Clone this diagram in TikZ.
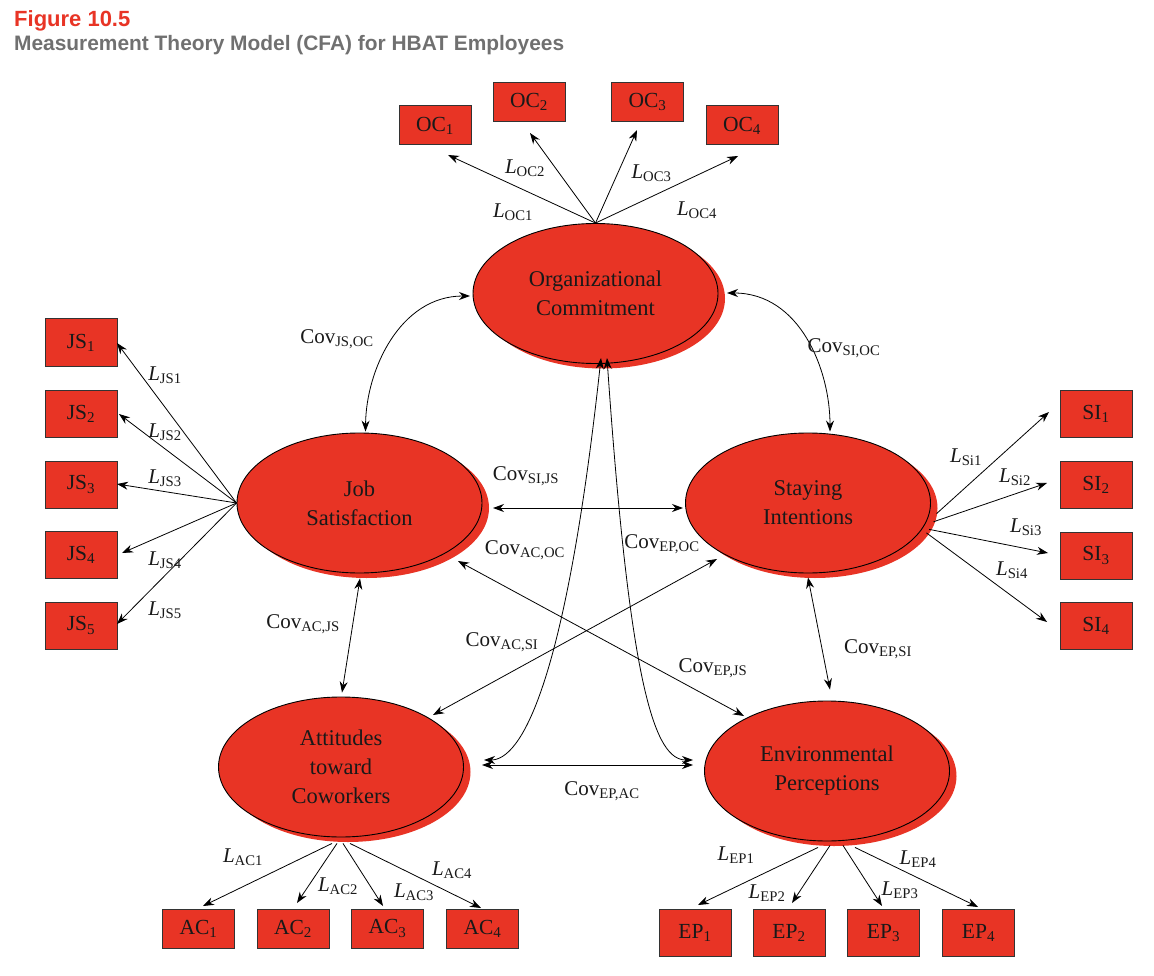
\documentclass[tikz,border=0pt]{standalone}
\usepackage{fontspec}
\setmainfont{Liberation Serif}
\newfontfamily\titlefont{Liberation Sans}
\usetikzlibrary{shapes.geometric,arrows.meta,shadows,calc}
\definecolor{fig}{RGB}{232,52,37}
\definecolor{tgray}{RGB}{112,112,112}
\newcommand{\Ld}[1]{\textit{L}\textsubscript{#1}}
\newcommand{\Cv}[1]{Cov\textsubscript{#1}}
\begin{document}
\begin{tikzpicture}[x=1pt,y=-1pt,
  lat/.style={ellipse, draw=black, line width=0.9pt, fill=fig, minimum width=245pt, minimum height=140pt,
    inner sep=0pt, align=center, text=black!90, font=\fontsize{22.5}{29}\selectfont,
    drop shadow={shadow xshift=7pt, shadow yshift=-5pt, fill=fig, opacity=1}},
  box/.style={rectangle, draw=black!80, line width=1pt, fill=fig, minimum width=72pt, minimum height=39pt,
    inner sep=0pt, text=black!90, font=\fontsize{21.5}{24}\selectfont},
  tbox/.style={box, minimum height=47pt},
  tip/.tip={Stealth[length=11pt,width=8pt]},
  arr/.style={-tip, line width=0.8pt},
  darr/.style={tip-tip, line width=0.8pt},
  lab/.style={inner sep=0pt, text=black!90, font=\fontsize{21}{24}\selectfont}
]
\useasboundingbox (0,0) rectangle (1154,976);

% title
\node[anchor=base west, inner sep=0pt, text=fig, font=\titlefont\bfseries\fontsize{22}{24}\selectfont] (title) at (14,27) {Figure 10.5};
\node[anchor=base west, inner sep=0pt, text=tgray, font=\titlefont\bfseries\fontsize{20.9}{24}\selectfont] (subtitle) at (14,51) {Measurement Theory Model (CFA) for HBAT Employees};

% latent constructs
\node[lat] (oc) at (595.5,293.5) {Organizational\\Commitment};
\node[lat] (js) at (359.5,503) {Job\\Satisfaction};
\node[lat] (si) at (808,503) {Staying\\Intentions};
\node[lat] (ac) at (341,767) {Attitudes\\toward\\Coworkers};
\node[lat] (ep) at (827,771) {Environmental\\Perceptions};

% indicators
\node[box] (oc1) at (435,125.5) {OC\textsubscript{1}};
\node[box] (oc2) at (529,102) {OC\textsubscript{2}};
\node[box] (oc3) at (647.5,102) {OC\textsubscript{3}};
\node[box] (oc4) at (742,125.5) {OC\textsubscript{4}};

\node[tbox] (js1) at (81,342.5) {JS\textsubscript{1}};
\node[tbox] (js2) at (81,413.5) {JS\textsubscript{2}};
\node[tbox] (js3) at (81,484.5) {JS\textsubscript{3}};
\node[tbox] (js4) at (81,555) {JS\textsubscript{4}};
\node[tbox] (js5) at (81,625.5) {JS\textsubscript{5}};

\node[tbox] (si1) at (1096,413.5) {SI\textsubscript{1}};
\node[tbox] (si2) at (1096,484.5) {SI\textsubscript{2}};
\node[tbox] (si3) at (1096,555.5) {SI\textsubscript{3}};
\node[tbox] (si4) at (1096,625.5) {SI\textsubscript{4}};

\node[box] (ac1) at (198.5,928.5) {AC\textsubscript{1}};
\node[box] (ac2) at (293,928.5) {AC\textsubscript{2}};
\node[box] (ac3) at (387.5,928.5) {AC\textsubscript{3}};
\node[box] (ac4) at (482.5,928.5) {AC\textsubscript{4}};

\node[tbox] (ep1) at (695,933) {EP\textsubscript{1}};
\node[tbox] (ep2) at (789,933) {EP\textsubscript{2}};
\node[tbox] (ep3) at (883.5,933) {EP\textsubscript{3}};
\node[tbox] (ep4) at (978.5,933) {EP\textsubscript{4}};

% arrow tip coordinates near indicators
\coordinate (toc1) at (448,155);
\coordinate (toc2) at (530,133);
\coordinate (toc3) at (637,130);
\coordinate (toc4) at (738,156);
\coordinate (tjs1) at (117,343);
\coordinate (tjs2) at (119,414);
\coordinate (tjs3) at (117,484);
\coordinate (tjs4) at (122,553);
\coordinate (tjs5) at (117,624);
\coordinate (tsi1) at (1049,412);
\coordinate (tsi2) at (1047,483);
\coordinate (tsi3) at (1048,553);
\coordinate (tsi4) at (1047,622);
\coordinate (tac1) at (203,906);
\coordinate (tac2) at (297,903);
\coordinate (tac3) at (383,906);
\coordinate (tac4) at (481,908);
\coordinate (tep1) at (698,905);
\coordinate (tep2) at (792,903);
\coordinate (tep3) at (882,906);
\coordinate (tep4) at (978,907);

% loadings
\foreach \i in {1,...,4} {\draw[arr] (oc.north) -- (toc\i);}
\foreach \i in {1,...,5} {\draw[arr] (js.west) -- (tjs\i);}
\draw[arr] ([xshift=7pt]si.-5) -- (tsi1);
\draw[arr] ([xshift=7pt]si.-9) -- (tsi2);
\draw[arr] ([xshift=7pt]si.-13) -- (tsi3);
\draw[arr] ([xshift=7pt]si.-15) -- (tsi4);
\draw[arr] ($(ac.south)+(-9,6)$) -- (tac1);
\draw[arr] ($(ac.south)+(-4,6)$) -- (tac2);
\draw[arr] ($(ac.south)+(2,6)$) -- (tac3);
\draw[arr] ($(ac.south)+(9,6)$) -- (tac4);
\draw[arr] ($(ep.south)+(-9,6)$) -- (tep1);
\draw[arr] ($(ep.south)+(3,4)$) -- (tep2);
\draw[arr] ($(ep.south)+(16,4)$) -- (tep3);
\draw[arr] ($(ep.south)+(28,6)$) -- (tep4);

% loading labels
\node[lab] (loc1) at (513,212) {\Ld{OC1}};
\node[lab] (loc2) at (525,168) {\Ld{OC2}};
\node[lab] (loc3) at (651.5,173) {\Ld{OC3}};
\node[lab] (loc4) at (697,210) {\Ld{OC4}};
\node[lab] (ljs1) at (165,375) {\Ld{JS1}};
\node[lab] (ljs2) at (165,432) {\Ld{JS2}};
\node[lab] (ljs3) at (165,478) {\Ld{JS3}};
\node[lab] (ljs4) at (165,560) {\Ld{JS4}};
\node[lab] (ljs5) at (165,610) {\Ld{JS5}};
\node[lab] (lsi1) at (966,457) {\Ld{Si1}};
\node[lab] (lsi2) at (1015,477) {\Ld{Si2}};
\node[lab] (lsi3) at (1026,527) {\Ld{Si3}};
\node[lab] (lsi4) at (1012,570) {\Ld{Si4}};
\node[lab] (lac1) at (243,857) {\Ld{AC1}};
\node[lab] (lac2) at (338,886) {\Ld{AC2}};
\node[lab] (lac3) at (414,892) {\Ld{AC3}};
\node[lab] (lac4) at (452,870) {\Ld{AC4}};
\node[lab] (lep1) at (736,855) {\Ld{EP1}};
\node[lab] (lep2) at (767,893) {\Ld{EP2}};
\node[lab] (lep3) at (900,890) {\Ld{EP3}};
\node[lab] (lep4) at (918,859) {\Ld{EP4}};

% covariances
\draw[darr] ($(oc.center)+(-125.5,2.5)$) .. controls (400,296) and (366,370) .. ($(js.north)+(6,-1)$);
\draw[darr] ($(oc.center)+(131.5,-0.5)$) .. controls (800,293) and (830,370) .. ($(si.north)+(22,-1)$);
\draw[darr] ($(js.center)+(133.5,5)$) -- ($(si.center)+(-125,5)$);
\draw[darr] ($(js.south)+(0.5,5)$) -- ($(ac.north)+(1,-4)$);
\draw[darr] ($(si.south)+(0,4)$) -- ($(ep.north)+(3,-11)$);
\draw[darr] ($(ac.center)+(92,-52)$) -- ($(si.center)+(-91,56)$);
\draw[darr] ($(js.center)+(98.5,58)$) -- ($(ep.center)+(-83,-55)$);
\draw[darr] ($(ac.center)+(141,-2)$) -- ($(ep.center)+(-134,-6)$);
\draw[darr] ($(oc.center)+(5.5,64.5)$) .. controls (565,690) and (520,760) .. ($(ac.center)+(143,-7)$);
\draw[darr] ($(oc.center)+(11.5,64.5)$) .. controls (630,690) and (655,760) .. ($(ep.center)+(-134,-11)$);

% covariance labels
\node[lab] (cjsoc) at (337,339) {\Cv{JS,OC}};
\node[lab] (csioc) at (844,348) {\Cv{SI,OC}};
\node[lab] (csijs) at (526,476) {\Cv{SI,JS}};
\node[lab] (cacoc) at (525,550) {\Cv{AC,OC}};
\node[lab] (cepoc) at (662,544) {\Cv{EP,OC}};
\node[lab] (cacsi) at (502,642) {\Cv{AC,SI}};
\node[lab] (cacjs) at (303,624) {\Cv{AC,JS}};
\node[lab] (cepjs) at (713,668) {\Cv{EP,JS}};
\node[lab] (cepsi) at (878,649) {\Cv{EP,SI}};
\node[lab] (cepac) at (602,791) {\Cv{EP,AC}};
\end{tikzpicture}
\end{document}
